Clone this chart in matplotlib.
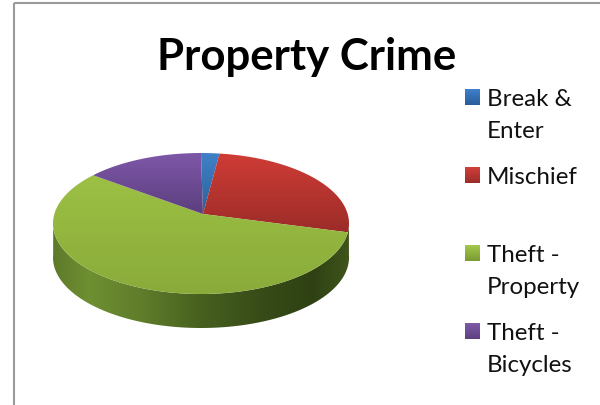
import numpy as np
import matplotlib
matplotlib.use("Agg")
import matplotlib.pyplot as plt
from matplotlib.colors import LinearSegmentedColormap
from matplotlib.patches import Polygon, Rectangle

# Shares of property crime, percent
categories = ["Break &\nEnter", "Mischief", "Theft -\nProperty", "Theft -\nBicycles"]
shares = [2, 25, 60, 13]
title = "Property Crime"

top_colors = [("#3f80c8", "#2c6299"), ("#d03c36", "#9c2c28"), ("#9cc044", "#8aab3a"), ("#7e57a8", "#5c3f7e")]
legend_colors = [("#3f80cc", "#2a5c98"), ("#d23f39", "#9b2d29"), ("#a3c94a", "#7a9a34"), ("#7f5aa8", "#5e4080")]
legend_y = [98, 176, 254, 332]

# pie layout in pixels
cx, cy, rx, ry = 201, 224.5, 148, 70.5
apex_x, apex_y = 203, 215
depth = 34


def rim(theta):
    return cx + rx * np.sin(theta), cy - ry * np.cos(theta)


def vgrad(ax, colors, extent, clip):
    cmap = LinearSegmentedColormap.from_list("g", colors)
    im = ax.imshow(np.linspace(0, 1, 64).reshape(-1, 1), cmap=cmap, extent=extent,
                   aspect="auto", origin="upper", zorder=3, interpolation="bilinear")
    im.set_clip_path(clip)


fig = plt.figure(figsize=(6, 4.06), dpi=100)
ax = fig.add_axes([0, 0, 1, 1])
ax.set_xlim(0, 600)
ax.set_ylim(406, 0)
ax.axis("off")

# chart frame, only its top and left edges fall on the canvas
ax.add_patch(Rectangle((14, 4), 620, 430, fill=False, ec="#9a9a9a", lw=1.5, zorder=1))

# side wall of the disc
t = np.linspace(np.pi / 2 * 0.98, np.pi * 1.5 * 1.01, 200)
xs, ys = rim(t)
wall = np.column_stack([np.r_[xs, xs[::-1]], np.r_[ys, ys[::-1] + depth]])
wall_patch = Polygon(wall, closed=True, fc="none", ec="none", transform=ax.transData)
ax.add_patch(wall_patch)
wall_cmap = LinearSegmentedColormap.from_list("wall", [
    (0.0, "#5d7a2a"), (0.12, "#6f8f32"), (0.3, "#5f7d2b"), (0.5, "#47601f"),
    (0.72, "#364a17"), (0.88, "#2f4113"), (1.0, "#3f541b")])
wall_im = ax.imshow(np.linspace(0, 1, 256).reshape(1, -1), cmap=wall_cmap,
                    extent=(cx - rx, cx + rx, cy + ry + depth, cy - 5),
                    aspect="auto", zorder=2, interpolation="bilinear")
wall_im.set_clip_path(wall_patch)

# top face, one wedge per share
edges = np.radians(np.cumsum([0] + shares) / sum(shares) * 360)
for i, name in enumerate(categories):
    t = np.linspace(edges[i], edges[i + 1], 120)
    xs, ys = rim(t)
    pts = np.column_stack([np.r_[apex_x, xs], np.r_[apex_y, ys]])
    wedge = Polygon(pts, closed=True, fc="none", ec="none", transform=ax.transData)
    ax.add_patch(wedge)
    vgrad(ax, top_colors[i], (pts[:, 0].min(), pts[:, 0].max(), pts[:, 1].max(), pts[:, 1].min()), wedge)

# legend on the right
for name, y0, colors in zip(categories, legend_y, legend_colors):
    sw = Rectangle((465, y0 - 8), 15, 16, fc="none", ec="none")
    ax.add_patch(sw)
    vgrad(ax, colors, (465, 480, y0 + 8, y0 - 8), sw)
    ax.text(487, y0 - 9, name, fontsize=17.4, family="Lato", va="top", ha="left",
            color="#111111", linespacing=1.62, zorder=4)

ax.text(307, 57, title, fontsize=31.5, family="Lato", fontweight="bold", ha="center",
        va="center", color="black", zorder=4)

ax.set_xlim(0, 600)
ax.set_ylim(406, 0)
fig.savefig("out.png", dpi=100)
